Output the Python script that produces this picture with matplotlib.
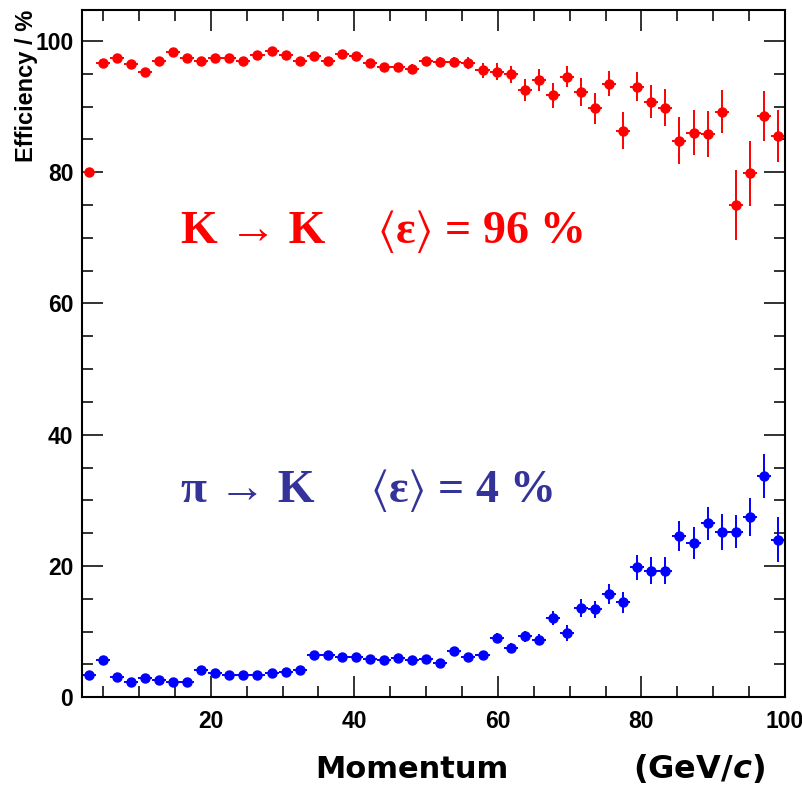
import numpy as np
import matplotlib
matplotlib.use("Agg")
import matplotlib.pyplot as plt
from matplotlib.ticker import MultipleLocator

# 50 momentum bins between 2 and 100 GeV/c
bin_edges = np.linspace(2, 100, 51)

# K -> K efficiency (%) and its error
kk_eff = [80.0, 96.6, 97.4, 96.4, 95.3, 97.0, 98.3, 97.4, 96.9, 97.4,
          97.4, 97.0, 97.8, 98.5, 97.8, 97.0, 97.7, 97.0, 98.0, 97.7,
          96.6, 96.0, 96.0, 95.7, 96.9, 96.8, 96.8, 96.6, 95.5, 95.3,
          94.9, 92.5, 94.0, 91.7, 94.5, 92.2, 89.7, 93.5, 86.3, 93.0,
          90.7, 89.8, 84.8, 86.0, 85.8, 89.2, 75.0, 79.8, 88.6, 85.5]
kk_err = [0.5, 0.4, 0.4, 0.4, 0.5, 0.4, 0.4, 0.4, 0.4, 0.4,
          0.4, 0.4, 0.4, 0.4, 0.4, 0.5, 0.5, 0.5, 0.5, 0.5,
          0.6, 0.6, 0.6, 0.7, 0.7, 0.7, 0.8, 0.9, 1.2, 1.3,
          1.3, 1.7, 1.7, 1.9, 1.6, 2.1, 2.4, 1.9, 2.8, 2.2,
          2.5, 2.8, 3.6, 3.4, 3.5, 3.3, 5.3, 4.9, 3.8, 4.0]

# pi -> K misidentification (%) and its error
pk_eff = [3.4, 5.7, 3.1, 2.3, 2.9, 2.6, 2.3, 2.3, 4.2, 3.7,
          3.4, 3.4, 3.4, 3.7, 3.9, 4.2, 6.5, 6.4, 6.2, 6.2,
          5.9, 5.7, 6.0, 5.7, 5.8, 5.2, 7.0, 6.2, 6.4, 9.0,
          7.5, 9.3, 8.8, 12.1, 9.8, 13.6, 13.4, 15.7, 14.5, 19.8,
          19.3, 19.3, 24.6, 23.5, 26.5, 25.2, 25.2, 27.5, 33.7, 24.0]
pk_err = [0.4, 0.5, 0.4, 0.3, 0.4, 0.3, 0.3, 0.3, 0.4, 0.4,
          0.4, 0.4, 0.4, 0.4, 0.4, 0.4, 0.5, 0.5, 0.5, 0.5,
          0.5, 0.5, 0.5, 0.5, 0.5, 0.5, 0.6, 0.6, 0.6, 0.8,
          0.7, 0.8, 0.8, 1.1, 1.2, 1.3, 1.3, 1.5, 1.6, 1.9,
          2.0, 2.1, 2.3, 2.4, 2.5, 2.7, 2.5, 2.9, 3.3, 3.4]

centers = 0.5 * (bin_edges[1:] + bin_edges[:-1])
half_w = 0.5 * np.diff(bin_edges)

plt.rcParams['mathtext.fontset'] = 'custom'
plt.rcParams['mathtext.it'] = 'DejaVu Sans:bold:italic'

fig = plt.figure(figsize=(8.03, 7.88), dpi=100)
ax = fig.add_axes([0.1017, 0.1151, 0.8758, 0.8722])

ax.errorbar(centers, kk_eff, xerr=half_w, yerr=kk_err, fmt='o', color='#ff0000',
            ms=6.5, elinewidth=1.4, capsize=0)
ax.errorbar(centers, pk_eff, xerr=half_w, yerr=pk_err, fmt='o', color='#0000ff',
            ms=6.5, elinewidth=1.4, capsize=0)

ax.set_xticks([0, 20, 40, 60, 80, 100])
ax.set_xticklabels(['', '20', '40', '60', '80', '100'])
ax.set_xlim(2, 100)
ax.set_ylim(0, 104.7)
ax.xaxis.set_minor_locator(MultipleLocator(5))
ax.yaxis.set_major_locator(MultipleLocator(20))
ax.yaxis.set_minor_locator(MultipleLocator(5))
ax.tick_params(which='both', direction='in', top=True, right=True, width=1.3, color='#222222')
ax.tick_params(which='major', length=15)
ax.tick_params(axis='x', which='major', pad=9)
ax.tick_params(axis='y', which='major', pad=6)
ax.tick_params(which='minor', length=8)
for s in ax.spines.values():
    s.set_linewidth(1.5)

tick_font = ['Liberation Sans Narrow', 'Liberation Sans', 'DejaVu Sans']
for lab in ax.get_xticklabels() + ax.get_yticklabels():
    lab.set_family(tick_font)
    lab.set_fontweight('bold')
    lab.set_fontsize(16.5)

fig.text(0.033, 0.988, 'Efficiency / %', rotation=90, ha='center', va='top',
         fontsize=17, fontweight='bold', family=['Liberation Sans', 'DejaVu Sans'])

# annotations, thin angle brackets as in the original
serif = ['Liberation Serif', 'DejaVu Serif']
ax.text(15.8, 69.2, 'K \u2192 K', color='#ff0000', fontsize=34, fontweight='bold',
        family=serif, ha='left', va='baseline')
ax.text(43.2, 69.2, r'$\langle$' + '\u03b5' + r'$\rangle$ = 96 %', color='#ff0000',
        fontsize=33, fontweight='bold', family=serif, math_fontfamily='stix',
        ha='left', va='baseline')
ax.text(15.8, 29.7, '\u03c0 \u2192 K', color='#333399', fontsize=34, fontweight='bold',
        family=serif, ha='left', va='baseline')
ax.text(42.2, 29.7, r'$\langle$' + '\u03b5' + r'$\rangle$ = 4 %', color='#333399',
        fontsize=33, fontweight='bold', family=serif, math_fontfamily='stix',
        ha='left', va='baseline')

fig.text(0.392, 0.013, 'Momentum', fontsize=22, fontweight='bold', ha='left', va='baseline')
fig.text(0.788, 0.013, r'(GeV/$\it{c}$)', fontsize=23, fontweight='bold', ha='left', va='baseline')

fig.savefig('out.png', dpi=100)
